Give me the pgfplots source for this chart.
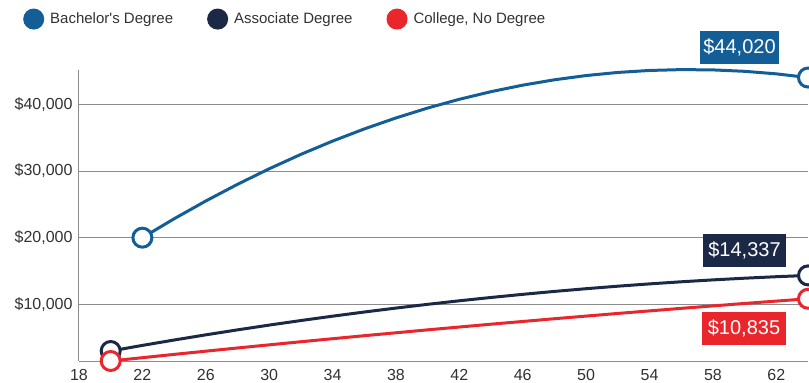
\documentclass[border=0pt]{standalone}
\usepackage{fontspec}
\setmainfont{Liberation Sans}
\usepackage{pgfplots}
\pgfplotsset{compat=1.18}
\definecolor{bach}{RGB}{19,94,150}
\definecolor{assoc}{RGB}{27,41,71}
\definecolor{coll}{RGB}{234,38,45}
\definecolor{gridc}{RGB}{140,140,140}
\definecolor{tickc}{RGB}{50,50,50}
\begin{document}
\begin{tikzpicture}[x=1pt,y=1pt]
\useasboundingbox (0,0) rectangle (809,383);
\begin{axis}[
  at={(79pt,22pt)}, anchor=south west,
  scale only axis, width=729pt, height=291pt,
  xmin=18, xmax=64, ymin=1500, ymax=45150,
  xtick={18,22,...,62},
  ytick={10000,20000,30000,40000},
  yticklabels={{\$10,000},{\$20,000},{\$30,000},{\$40,000}},
  scaled y ticks=false,
  axis x line*=bottom, axis y line*=left,
  axis line style={gridc, line width=1pt, -},
  ymajorgrids, major grid style={gridc, line width=0.9pt},
  major tick length=0pt,
  /pgf/number format/assume math mode=true,
  tick label style={font=\fontsize{16}{19}\selectfont, text=tickc},
  yticklabel style={xshift=-3pt},
  xticklabel style={yshift=-5pt},
  clip=false,
  legend columns=3,
  legend style={at={(rel axis cs:-0.0768,1.175)}, anchor=west, draw=none, fill=none, inner sep=0pt,
    font=\fontsize{15}{18}\selectfont, text=tickc,
    /tikz/every odd column/.append style={column sep=4pt},
    /tikz/every even column/.append style={column sep=32pt}},
  legend image code/.code={\fill (0pt,0pt) circle (9pt);},
]
\addplot[color=bach, line width=3pt, mark=*, mark indices={1,22}, mark size=9.5pt,
  mark options={fill=white, line width=3pt}] coordinates {
(22,20000)(24,22830)(26,25500)(28,28000)(30,30331)(32,32493)(34,34485)(36,36307)
(38,37960)(40,39443)(42,40757)(44,41901)(46,42876)(48,43681)(50,44317)(52,44783)
(54,45080)(56,45207)(58,45164)(60,44952)(62,44571)(64,44020)};
\addlegendentry{Bachelor\textquotesingle s Degree}
\addplot[color=assoc, line width=3pt, mark=*, mark indices={1,23}, mark size=9.5pt,
  mark options={fill=white, line width=3pt}] coordinates {
(20,3000)(22,3839)(24,4646)(26,5423)(28,6170)(30,6885)(32,7570)(34,8223)(36,8846)
(38,9439)(40,10000)(42,10531)(44,11030)(46,11499)(48,11938)(50,12345)(52,12722)
(54,13067)(56,13382)(58,13667)(60,13920)(62,14143)(64,14337)};
\addlegendentry{Associate Degree}
\addplot[color=coll, line width=3pt, mark=*, mark indices={1,12}, mark size=9.5pt,
  mark options={fill=white, line width=3pt}] coordinates {
(20,1500)(24,2492)(28,3454)(32,4389)(36,5294)(40,6172)(44,7021)(48,7841)
(52,8634)(56,9397)(60,10132)(64,10835)};
\addlegendentry{College, No Degree}
\node[fill=bach, text=white, font=\fontsize{20}{24}\selectfont, minimum width=79pt, minimum height=33pt, inner sep=0pt,
  xshift=-68.5pt, yshift=30.5pt] at (axis cs:64,44020) {\$44,020};
\node[fill=assoc, text=white, font=\fontsize{20}{24}\selectfont, minimum width=83pt, minimum height=33pt, inner sep=0pt,
  xshift=-63.5pt, yshift=25pt] at (axis cs:64,14337) {\$14,337};
\node[fill=coll, text=white, font=\fontsize{20}{24}\selectfont, minimum width=84pt, minimum height=33pt, inner sep=0pt,
  xshift=-64pt, yshift=-29.3pt] at (axis cs:64,10835) {\$10,835};
\end{axis}
\end{tikzpicture}
\end{document}
